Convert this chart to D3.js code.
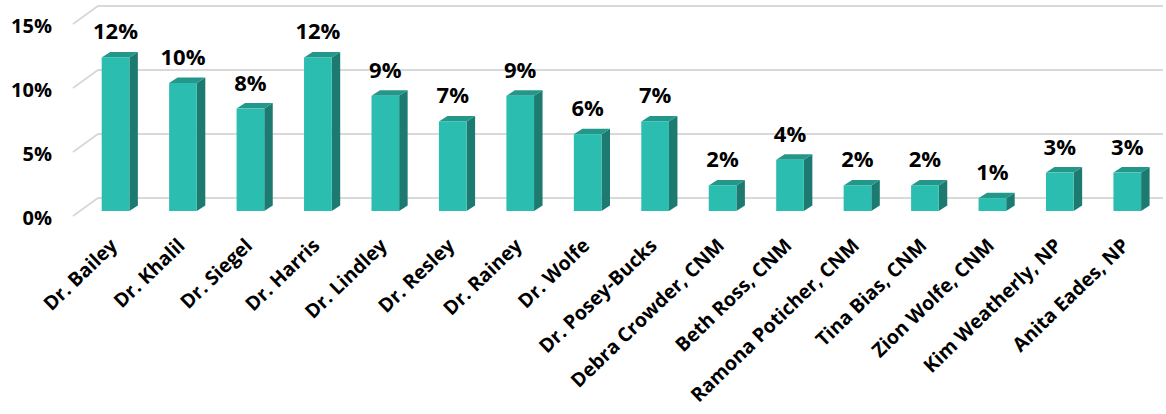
<!DOCTYPE html>
<html>
<head>
<meta charset="utf-8">
<script src="https://cdn.jsdelivr.net/npm/d3@7"></script>
<style>
  html, body { margin: 0; padding: 0; background: #ffffff; }
  svg { display: block; font-family: "Open Sans", "Noto Sans", sans-serif; }
</style>
</head>
<body>
<svg id="chart" width="1166" height="414"></svg>
<script>
// Share of visits by provider
const categories = [
  "Dr. Bailey", "Dr. Khalil", "Dr. Siegel", "Dr. Harris", "Dr. Lindley",
  "Dr. Resley", "Dr. Rainey", "Dr. Wolfe", "Dr. Posey-Bucks",
  "Debra Crowder, CNM", "Beth Ross, CNM", "Ramona Poticher, CNM",
  "Tina Bias, CNM", "Zion Wolfe, CNM", "Kim Weatherly, NP", "Anita Eades, NP"
];
const values = [0.12, 0.10, 0.08, 0.12, 0.09, 0.07, 0.09, 0.06, 0.07,
                0.02, 0.04, 0.02, 0.02, 0.01, 0.03, 0.03];
const yTicks = [0, 0.05, 0.10, 0.15];

const svg = d3.select("#chart");

// Bars sit on a plane between the front edge and the back wall
const x = d3.scaleBand()
  .domain(categories)
  .range([81.8, 1161])
  .paddingInner(0.59)
  .paddingOuter(0.295);

const y = d3.scaleLinear().domain([0, 0.15]).range([211, 19]);

// Oblique depth offsets
const wallDX = 25, wallDY = -13;   // bar plane -> back wall
const frontDY = 5;                 // bar plane -> front edge
const depthX = 8.5, depthY = -5.5; // bar thickness
const wallLeft = 73, wallRight = 1163;

const pct = d3.format(".0%");

// Gridlines: short receding segment on the left, then across the back wall
const grid = svg.append("g").attr("class", "grid");
yTicks.forEach(t => {
  const yb = y(t);
  grid.append("path")
    .attr("d", `M${wallLeft},${yb + frontDY} L${wallLeft + wallDX},${yb + wallDY} L${wallRight},${yb + wallDY}`)
    .attr("fill", "none")
    .attr("stroke", "#d9d9d9")
    .attr("stroke-width", 2);
});

// Value axis labels
svg.append("g").selectAll("text")
  .data(yTicks)
  .join("text")
  .attr("x", 52)
  .attr("y", d => y(d) + frontDY + 1)
  .attr("dominant-baseline", "central")
  .attr("text-anchor", "end")
  .attr("font-size", 20)
  .attr("font-weight", 700)
  .attr("fill", "#000")
  .text(d => pct(d));

// 3D columns: side face, top face, front face
const bars = svg.append("g").selectAll("g")
  .data(categories.map((c, i) => ({ c, v: values[i] })))
  .join("g");

bars.append("path")
  .attr("fill", "#1c7a70")
  .attr("d", d => {
    const x1 = x(d.c) + x.bandwidth(), yt = y(d.v), yb = y(0);
    return `M${x1},${yt} L${x1 + depthX},${yt + depthY} L${x1 + depthX},${yb + depthY} L${x1},${yb} Z`;
  });

bars.append("path")
  .attr("fill", "#22978a")
  .attr("d", d => {
    const x0 = x(d.c), x1 = x0 + x.bandwidth(), yt = y(d.v);
    return `M${x0},${yt} L${x0 + depthX},${yt + depthY} L${x1 + depthX},${yt + depthY} L${x1},${yt} Z`;
  });

bars.append("rect")
  .attr("fill", "#2bbdaf")
  .attr("x", d => x(d.c))
  .attr("y", d => y(d.v))
  .attr("width", x.bandwidth())
  .attr("height", d => y(0) - y(d.v));

// Data labels
bars.append("text")
  .attr("x", d => x(d.c) + x.bandwidth() / 2)
  .attr("y", d => y(d.v) - 18)
  .attr("text-anchor", "middle")
  .attr("font-size", 22)
  .attr("font-weight", 700)
  .attr("fill", "#000")
  .text(d => pct(d.v));

// Category labels, rotated
svg.append("g").selectAll("text")
  .data(categories)
  .join("text")
  .attr("transform", d => `translate(${x(d) + x.bandwidth() / 2 + 3},247) rotate(-44)`)
  .attr("text-anchor", "end")
  .attr("font-size", 19.5)
  .attr("font-weight", 700)
  .attr("fill", "#000")
  .text(d => d);
</script>
</body>
</html>
